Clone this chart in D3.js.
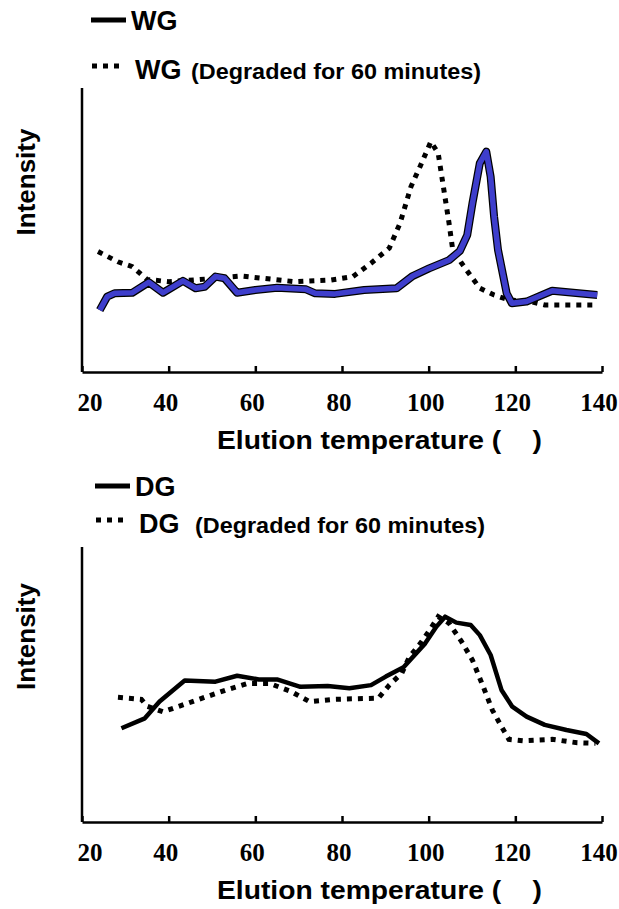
<!DOCTYPE html>
<html>
<head>
<meta charset="utf-8">
<script src="https://cdn.jsdelivr.net/npm/d3@7"></script>
<style>
  body { margin: 0; background: #fff; }
  text { font-family: 'Liberation Sans', Arial, sans-serif; font-weight: bold; fill: #000; }
  .tick-label { font-family: 'Liberation Serif', 'Times New Roman', serif; font-size: 25px; }
</style>
</head>
<body>
<div id="chart"></div>
<script>
const xTicks = [20, 40, 60, 80, 100, 120, 140]

// WG, elution temperature vs intensity (arbitrary units)
const wgTemp = [24.1, 25.8, 27.5, 31.6, 35.4, 38.7, 43.3, 46.2, 48.3, 50.8, 52.9, 55.8, 60.0, 65.0, 71.7, 73.8, 78.4, 85.1, 92.6, 96.3, 100.1, 104.7, 107.2, 108.9, 110.1, 111.8, 113.3, 114.3, 115.1, 116.0, 118.0, 119.2, 122.6, 128.5, 138.9]
const wgVal = [21.8, 26.5, 27.7, 27.9, 31.6, 27.9, 32.1, 29.5, 30.0, 33.6, 33.0, 27.9, 28.9, 29.7, 29.1, 27.7, 27.5, 28.9, 29.5, 33.8, 36.5, 39.4, 42.6, 48.2, 59.4, 73.5, 77.6, 68.8, 54.7, 43.0, 27.7, 24.2, 24.8, 28.6, 27.1]

const wgDegTemp = [23.7, 28.3, 31.6, 35.0, 40.0, 45.8, 50.8, 56.7, 61.7, 69.2, 77.5, 82.5, 86.7, 90.9, 93.4, 95.9, 98.0, 100.5, 102.2, 103.4, 104.7, 105.5, 107.6, 111.8, 115.1, 118.5, 123.5, 126.8, 138.9]
const wgDegVal = [42.4, 38.8, 37.1, 32.6, 31.8, 32.4, 33.0, 33.8, 33.0, 31.8, 32.4, 33.6, 38.3, 43.6, 52.4, 65.2, 72.3, 81.1, 77.0, 65.2, 52.4, 43.6, 38.3, 29.5, 27.1, 25.4, 24.8, 23.6, 23.6]

// DG
const dgTemp = [29.1, 34.5, 37.9, 43.7, 50.8, 55.8, 60.8, 65.0, 70.4, 76.7, 81.7, 86.7, 90.1, 94.2, 99.2, 101.8, 103.8, 106.4, 109.7, 111.8, 114.3, 116.8, 119.3, 122.6, 126.8, 131.8, 136.4, 139.3]
const dgVal = [33.0, 36.5, 42.4, 49.8, 49.4, 51.5, 50.2, 50.2, 47.6, 47.9, 47.1, 48.2, 51.2, 54.5, 62.9, 68.8, 72.3, 70.2, 69.4, 65.8, 58.8, 46.5, 40.6, 37.1, 34.2, 32.4, 31.0, 27.7]

const dgDegTemp = [28.3, 33.7, 35.0, 38.7, 42.5, 48.3, 53.3, 58.3, 63.3, 68.3, 72.5, 78.4, 88.4, 90.9, 93.8, 95.5, 98.4, 100.5, 102.2, 104.7, 107.6, 110.1, 112.6, 114.7, 116.8, 118.5, 121.8, 128.5, 134.3, 138.5]
const dgDegVal = [43.9, 43.2, 40.8, 38.8, 40.8, 43.9, 46.5, 48.8, 48.8, 45.9, 42.4, 43.2, 43.6, 48.2, 52.4, 58.0, 63.5, 68.2, 72.3, 70.0, 63.5, 57.0, 47.6, 39.4, 33.6, 29.1, 28.6, 29.1, 27.9, 27.7]

const width = 619
const height = 909

const svg = d3.select('#chart')
  .append('svg')
  .attr('width', width)
  .attr('height', height)

const x = d3.scaleLinear().domain([20, 140]).range([82, 602])

const panels = [
  {
    name: 'WG', top: 88, bottom: 372, row1: 30, row2: 79, lx: 0,
    solid: d3.zip(wgTemp, wgVal), dotted: d3.zip(wgDegTemp, wgDegVal), blue: true
  },
  {
    name: 'DG', top: 547, bottom: 822, row1: 496, row2: 533, lx: 4,
    solid: d3.zip(dgTemp, dgVal), dotted: d3.zip(dgDegTemp, dgDegVal), blue: false
  }
]

const dash = '5,6'

panels.forEach((p) => {
  const y = d3.scaleLinear().domain([0, 100]).range([p.bottom, p.bottom - 284])
  const g = svg.append('g')

  // legend
  g.append('line')
    .attr('x1', 91 + p.lx).attr('x2', 126 + p.lx)
    .attr('y1', p.row1 - 10).attr('y2', p.row1 - 10)
    .attr('stroke', '#000').attr('stroke-width', 5)
  g.append('text')
    .attr('x', 131 + p.lx).attr('y', p.row1)
    .attr('font-size', 27)
    .text(p.name)
  g.append('line')
    .attr('x1', 92 + p.lx).attr('x2', 121 + p.lx)
    .attr('y1', p.row2 - 13).attr('y2', p.row2 - 13)
    .attr('stroke', '#000').attr('stroke-width', 5)
    .attr('stroke-dasharray', dash)
  g.append('text')
    .attr('x', 135 + p.lx).attr('y', p.row2)
    .attr('font-size', 27)
    .text(p.name)
  g.append('text')
    .attr('x', 191 + p.lx).attr('y', p.row2)
    .attr('font-size', 22)
    .attr('textLength', 290)
    .attr('lengthAdjust', 'spacingAndGlyphs')
    .text('(Degraded for 60 minutes)')

  // axes
  g.append('line')
    .attr('x1', x(20)).attr('x2', x(20))
    .attr('y1', p.top).attr('y2', p.bottom)
    .attr('stroke', '#000').attr('stroke-width', 2.5)

  const axis = d3.axisBottom(x)
    .tickValues(xTicks)
    .tickSize(-6)
    .tickSizeOuter(0)
    .tickFormat('')
  const ax = g.append('g')
    .attr('transform', `translate(0, ${p.bottom})`)
    .call(axis)
  ax.select('.domain').attr('stroke-width', 2.5)
  ax.selectAll('.tick line').attr('stroke-width', 2.5)

  g.selectAll('.tick-label')
    .data(xTicks)
    .enter()
    .append('text')
    .attr('class', 'tick-label')
    .attr('x', (d) => (d === 20 ? x(d) + 8 : x(d) - 3))
    .attr('y', p.bottom + 39)
    .attr('text-anchor', 'middle')
    .text((d) => d)

  g.append('text')
    .attr('x', 217).attr('y', p.bottom + 77)
    .attr('font-size', 26)
    .attr('textLength', 325)
    .attr('lengthAdjust', 'spacingAndGlyphs')
    .attr('xml:space', 'preserve')
    .text('Elution temperature (    )')

  g.append('text')
    .attr('transform', `translate(35, ${(p.top + p.bottom) / 2 - 48})rotate(-90)`)
    .attr('text-anchor', 'middle')
    .attr('font-size', 26)
    .text('Intensity')

  const line = d3.line().x((d) => x(d[0])).y((d) => y(d[1]))

  g.append('path')
    .datum(p.dotted)
    .attr('d', line)
    .attr('fill', 'none')
    .attr('stroke', '#000')
    .attr('stroke-width', 5)
    .attr('stroke-dasharray', dash)

  if (p.blue) {
    g.append('path')
      .datum(p.solid)
      .attr('d', line)
      .attr('fill', 'none')
      .attr('stroke', '#000')
      .attr('stroke-width', 8)
      .attr('stroke-linejoin', 'round')
    g.append('path')
      .datum(p.solid)
      .attr('d', line)
      .attr('fill', 'none')
      .attr('stroke', '#3e3ecc')
      .attr('stroke-width', 5.5)
      .attr('stroke-linejoin', 'round')
  } else {
    g.append('path')
      .datum(p.solid)
      .attr('d', line)
      .attr('fill', 'none')
      .attr('stroke', '#000')
      .attr('stroke-width', 4.5)
      .attr('stroke-linejoin', 'round')
  }
})
</script>
</body>
</html>
